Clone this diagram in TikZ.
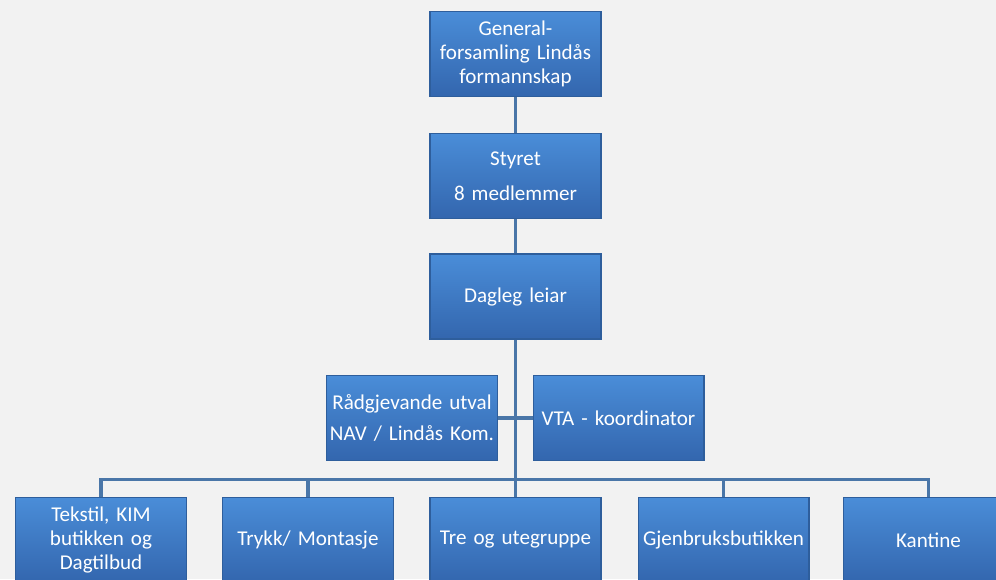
\documentclass[tikz,border=0pt]{standalone}
\usepackage{fontspec}
\setmainfont{Carlito}
\definecolor{bg}{HTML}{F2F2F2}
\definecolor{boxtop}{HTML}{4A8DD8}
\definecolor{boxbot}{HTML}{3366AE}
\definecolor{boxedge}{HTML}{2E5E9C}
\definecolor{linec}{HTML}{4A76A8}
\tikzset{
  orgbox/.style={rectangle, top color=boxtop, bottom color=boxbot, draw=boxedge,
    line width=0.6pt, minimum width=3.42cm, minimum height=1.7cm, inner sep=0pt,
    text width=3.3cm, align=center, text=white, font=\fontsize{12}{13.8}\selectfont},
  conn/.style={draw=linec, line width=2.2pt}
}
\begin{document}
\begin{tikzpicture}[x=0.02cm, y=-0.02cm]
        \fill[bg] (0,0) rectangle (996,579);
        \useasboundingbox (0,0) rectangle (996,579);

        \coordinate (bus) at (515.5,479.5);

        \draw[conn] (515.5,54) -- (515.5,497);
        \draw[conn] (412,418) -- (618.5,418);
        \foreach \x in {101,308,723.5,928.5}
            \draw[conn] (bus) -| (\x,497);

        \node[orgbox] (gf) at (515.5,54) {General-\\forsamling Lindås\\formannskap};
        \node[orgbox] (styret) at (515.5,176) {Styret\\[1.1ex]8 medlemmer};
        \node[orgbox] (leiar) at (515.5,296.5) {Dagleg leiar};
        \node[orgbox] (raad) at (412,418) {Rådgjevande utval\\[0.7ex]NAV / Lindås Kom.};
        \node[orgbox] (vta) at (618.5,418) {VTA - koordinator};

        \node[orgbox] (tekstil) at (101,540) {Tekstil, KIM\\butikken og\\Dagtilbud};
        \node[orgbox] (trykk) at (308,540) {Trykk/ Montasje};
        \node[orgbox] (tre) at (515.5,540) {Tre og utegruppe};
        \node[orgbox] (gjenbruk) at (723.5,540) {Gjenbruksbutikken};
        \node[orgbox] (kantine) at (928.5,540) {Kantine};
    \end{tikzpicture}
\end{document}
